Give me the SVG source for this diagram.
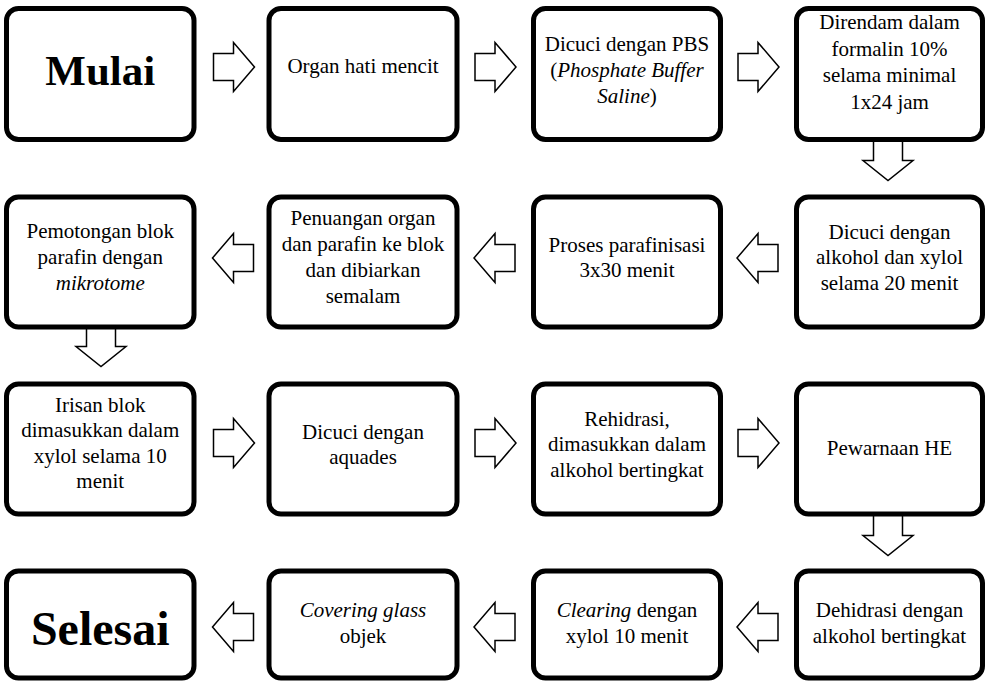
<svg xmlns="http://www.w3.org/2000/svg" xmlns:xlink="http://www.w3.org/1999/xlink" width="989" height="684" viewBox="0 0 989 684">
<style>
.box{fill:#fff;stroke:#000;stroke-width:5}
.t{font-family:"Liberation Serif","Times New Roman",serif;font-size:21px;fill:#000;text-anchor:middle}
.big{font-family:"Liberation Serif","Times New Roman",serif;font-weight:bold;fill:#000;text-anchor:middle}
.i{font-style:italic}
.arr{fill:#fff;stroke:#000;stroke-width:1.5;stroke-linejoin:miter}
</style>
<defs>
<path id="ar" d="M-20.5,-13.5 H-0.5 V-24.5 L20.5,0 L-0.5,24.5 V13.5 H-20.5 Z"/>
<path id="ad" d="M-14.5,-20.5 H14.5 V0.5 H25 L0,20.5 L-25,0.5 H-14.5 Z"/>
</defs>
<rect width="989" height="684" fill="#fff"/>

<g id="connectors" class="arr">
<use xlink:href="#ar" href="#ar" transform="translate(234,67)"/>
<use xlink:href="#ar" href="#ar" transform="translate(495.5,67)"/>
<use xlink:href="#ar" href="#ar" transform="translate(758.5,67)"/>
<use xlink:href="#ad" href="#ad" transform="translate(888,160)"/>
<use xlink:href="#ar" href="#ar" transform="translate(757.5,258) rotate(180)"/>
<use xlink:href="#ar" href="#ar" transform="translate(494.5,258) rotate(180)"/>
<use xlink:href="#ar" href="#ar" transform="translate(233,258) rotate(180)"/>
<use xlink:href="#ad" href="#ad" transform="translate(101,346)"/>
<use xlink:href="#ar" href="#ar" transform="translate(234,443)"/>
<use xlink:href="#ar" href="#ar" transform="translate(495.5,443)"/>
<use xlink:href="#ar" href="#ar" transform="translate(758.5,443)"/>
<use xlink:href="#ad" href="#ad" transform="translate(888,535)"/>
<use xlink:href="#ar" href="#ar" transform="translate(757.5,627) rotate(180)"/>
<use xlink:href="#ar" href="#ar" transform="translate(494.5,627) rotate(180)"/>
<use xlink:href="#ar" href="#ar" transform="translate(233,627) rotate(180)"/>
</g>

<!-- Row 1 -->
<g id="n1"><rect class="box" x="6.5" y="8.5" width="187.5" height="131" rx="12"/>
<text class="big" x="100.25" y="85" font-size="43">Mulai</text></g>
<g id="n2"><rect class="box" x="269" y="8.5" width="188" height="131" rx="12"/>
<text class="t" x="363" y="72.5">Organ hati mencit</text></g>
<g id="n3"><rect class="box" x="533.5" y="8.5" width="187" height="131" rx="12"/>
<text class="t"><tspan x="627" y="50.5">Dicuci dengan PBS</tspan><tspan x="627" y="76.5">(<tspan class="i">Phosphate Buffer</tspan></tspan><tspan x="627" y="102.5"><tspan class="i">Saline</tspan>)</tspan></text></g>
<g id="n4"><rect class="box" x="796.5" y="8.5" width="186" height="131" rx="12"/>
<text class="t"><tspan x="889.5" y="29">Direndam dalam</tspan><tspan x="889.5" y="55.5">formalin 10%</tspan><tspan x="889.5" y="82">selama minimal</tspan><tspan x="889.5" y="108.5">1x24 jam</tspan></text></g>

<!-- Row 2 -->
<g id="n5"><rect class="box" x="6.5" y="197" width="187.5" height="130" rx="12"/>
<text class="t"><tspan x="100.25" y="237.5">Pemotongan blok</tspan><tspan x="100.25" y="263.5">parafin dengan</tspan><tspan x="100.25" y="289.5" class="i">mikrotome</tspan></text></g>
<g id="n6"><rect class="box" x="269" y="197" width="188" height="130" rx="12"/>
<text class="t"><tspan x="363" y="224.5">Penuangan organ</tspan><tspan x="363" y="250.5">dan parafin ke blok</tspan><tspan x="363" y="276.5">dan dibiarkan</tspan><tspan x="363" y="302.5">semalam</tspan></text></g>
<g id="n7"><rect class="box" x="533.5" y="197" width="187" height="130" rx="12"/>
<text class="t"><tspan x="627" y="251.5">Proses parafinisasi</tspan><tspan x="627" y="277">3x30 menit</tspan></text></g>
<g id="n8"><rect class="box" x="796.5" y="197" width="186" height="130" rx="12"/>
<text class="t"><tspan x="889.5" y="238.5">Dicuci dengan</tspan><tspan x="889.5" y="264">alkohol dan xylol</tspan><tspan x="889.5" y="289.5">selama 20 menit</tspan></text></g>

<!-- Row 3 -->
<g id="n9"><rect class="box" x="6.5" y="384" width="187.5" height="130" rx="12"/>
<text class="t"><tspan x="100.25" y="411.5">Irisan blok</tspan><tspan x="100.25" y="437">dimasukkan dalam</tspan><tspan x="100.25" y="462.5">xylol selama 10</tspan><tspan x="100.25" y="488">menit</tspan></text></g>
<g id="n10"><rect class="box" x="269" y="384" width="188" height="130" rx="12"/>
<text class="t"><tspan x="363" y="438.5">Dicuci dengan</tspan><tspan x="363" y="464">aquades</tspan></text></g>
<g id="n11"><rect class="box" x="533.5" y="384" width="187" height="130" rx="12"/>
<text class="t"><tspan x="627" y="425.5">Rehidrasi,</tspan><tspan x="627" y="451">dimasukkan dalam</tspan><tspan x="627" y="476.5">alkohol bertingkat</tspan></text></g>
<g id="n12"><rect class="box" x="796.5" y="384" width="186" height="130" rx="12"/>
<text class="t" x="889.5" y="454.5">Pewarnaan HE</text></g>

<!-- Row 4 -->
<g id="n13"><rect class="box" x="6.5" y="571" width="187.5" height="107" rx="12"/>
<text class="big" x="100.25" y="645" font-size="48">Selesai</text></g>
<g id="n14"><rect class="box" x="269" y="571" width="188" height="107" rx="12"/>
<text class="t"><tspan x="363" y="616.5" class="i">Covering glass</tspan><tspan x="363" y="643">objek</tspan></text></g>
<g id="n15"><rect class="box" x="533.5" y="571" width="187" height="107" rx="12"/>
<text class="t"><tspan x="627" y="616.5"><tspan class="i">Clearing</tspan> dengan</tspan><tspan x="627" y="643">xylol 10 menit</tspan></text></g>
<g id="n16"><rect class="box" x="796.5" y="571" width="186" height="107" rx="12"/>
<text class="t"><tspan x="889.5" y="616.5">Dehidrasi dengan</tspan><tspan x="889.5" y="643">alkohol bertingkat</tspan></text></g>
</svg>
